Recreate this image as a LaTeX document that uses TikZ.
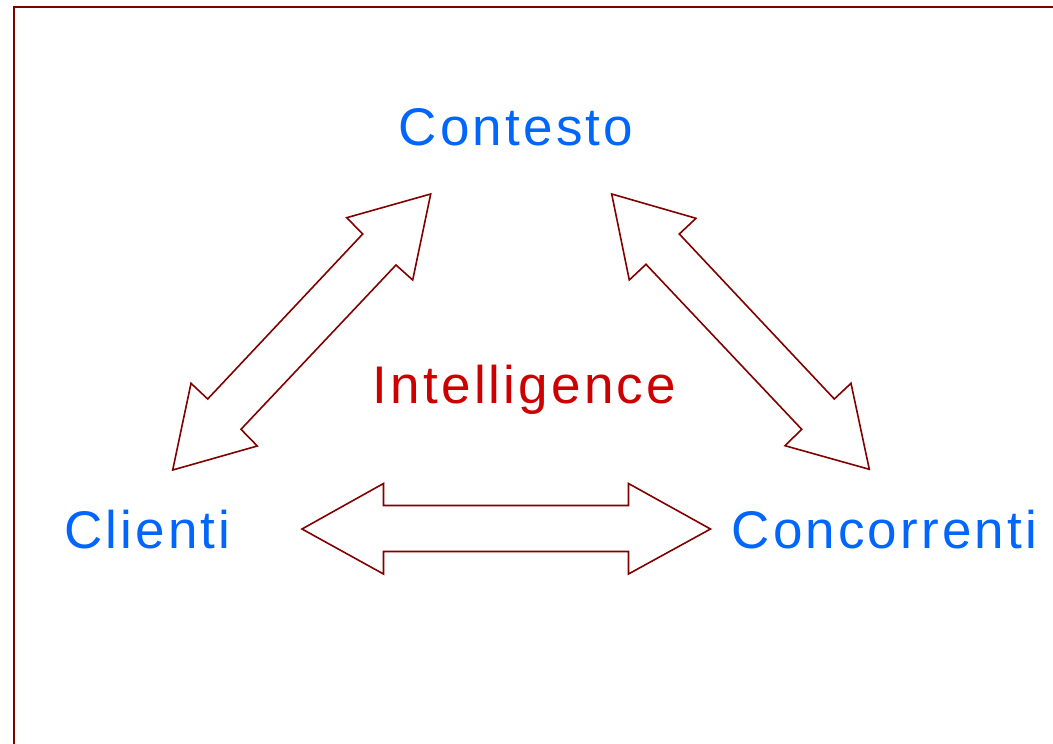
\documentclass[tikz,border=0pt]{standalone}
\usepackage{fontspec}
\setmainfont{Liberation Sans}[LetterSpace=6]
\definecolor{lblue}{RGB}{0,102,255}
\definecolor{ired}{RGB}{204,0,0}
\definecolor{maroon}{RGB}{128,0,0}
\tikzset{
  lbl/.style={inner sep=0pt, anchor=base, font=\fontsize{53}{64}\selectfont},
  concept/.style={lbl, text=lblue},
  core/.style={lbl, text=ired},
  fatarrow/.style={draw=maroon, line width=1.6pt, line join=miter, fill=white},
  frame/.style={draw=maroon, line width=2pt}
}
\begin{document}
\begin{tikzpicture}[x=1pt,y=-1pt]
\useasboundingbox (0,0) rectangle (1053,744);
\draw[frame] (14,760) -- (14,7) -- (1070,7);

\node[concept] (contesto) at (516,145) {Contesto};
\node[core] (intel) at (524.5,403) {Intelligence};
\node[concept] (clienti) at (147.5,548) {Clienti};
\node[concept] (conc) at (884.5,548) {Concorrenti};

% horizontal double arrow
\draw[fatarrow] (302,529) -- (383.5,483.5) -- (383.5,505.5) -- (628.5,505.5) -- (628.5,483.5)
  -- (710.5,529) -- (628.5,574) -- (628.5,551.5) -- (383.5,551.5) -- (383.5,574) -- cycle;
% left diagonal double arrow
\draw[fatarrow] (430.7,194) -- (346.7,217.7) -- (362.7,234) -- (207.7,399) -- (191,383.3)
  -- (172.7,470) -- (257.3,446) -- (241,429.3) -- (396,265) -- (412.7,280) -- cycle;
% right diagonal double arrow
\draw[fatarrow] (611.7,194) -- (696,218.3) -- (679.3,234) -- (834.3,399) -- (851,383.3)
  -- (869.3,469.3) -- (785,445.7) -- (801.7,429.3) -- (646,264.3) -- (629.3,280) -- cycle;
\end{tikzpicture}
\end{document}
